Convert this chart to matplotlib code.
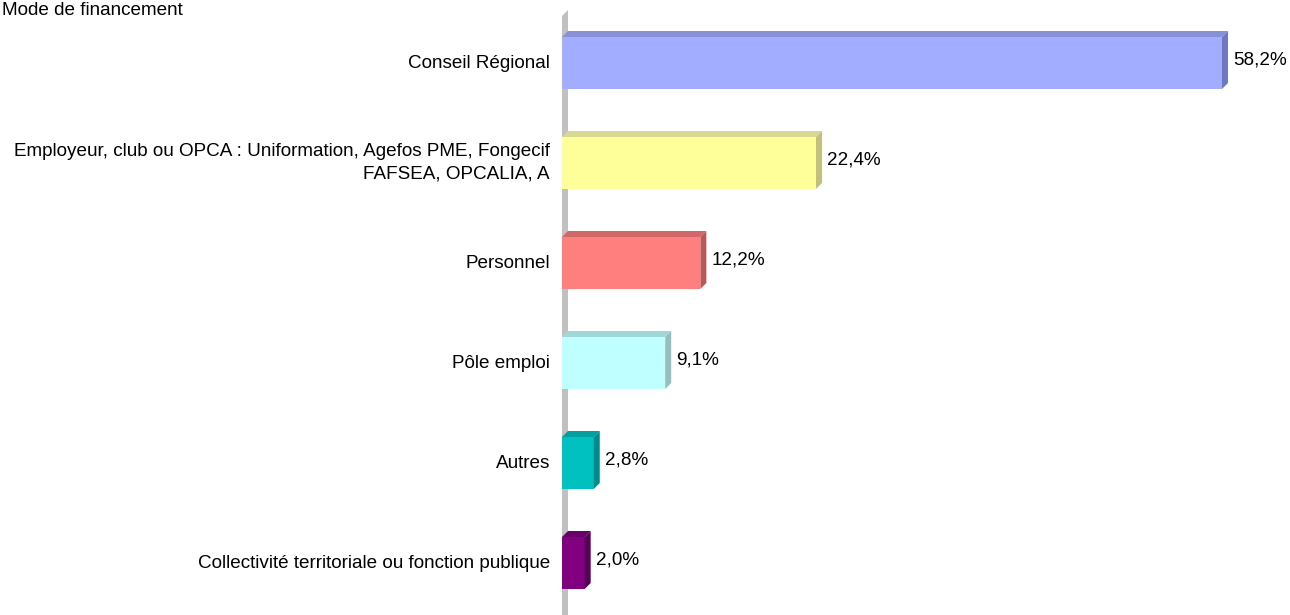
import matplotlib
matplotlib.use("Agg")
import matplotlib.pyplot as plt
from matplotlib.patches import Polygon

categories = ["Conseil Régional",
              "Employeur, club ou OPCA : Uniformation, Agefos PME, Fongecif\nFAFSEA, OPCALIA, A",
              "Personnel", "Pôle emploi", "Autres",
              "Collectivité territoriale ou fonction publique"]
values = [58.2, 22.4, 12.2, 9.1, 2.8, 2.0]
value_labels = ["58,2%", "22,4%", "12,2%", "9,1%", "2,8%", "2,0%"]
front_colors = ["#A3ADFF", "#FFFF99", "#FF7F7F", "#C0FFFF", "#00C0C0", "#800080"]
top_colors = ["#8890D8", "#D8D890", "#D06868", "#A0D8D8", "#00A0A0", "#6A006A"]
side_colors = ["#7078C0", "#C0C080", "#B85858", "#90C0C0", "#008A8A", "#580058"]
title = "Mode de financement"

font = ["Liberation Sans", "DejaVu Sans"]
fs = 13.6

W, H = 1290, 615
fig = plt.figure(figsize=(W / 100, H / 100), dpi=100)
x0 = 562
ax = fig.add_axes([x0 / W, 0, 1 - x0 / W, 1])
pxu = 11.34  # pixels per percent
ax.set_xlim(0, (W - x0) / pxu)
ax.set_ylim(5.52, -0.63)
ax.axis("off")

dx = 6 / pxu
dy = 0.06
h = 0.52

# wall
ax.add_patch(Polygon([(0, 5.6), (0, -0.47), (dx, -0.53), (dx, 5.6)],
                     closed=True, facecolor="#C0C0C0", edgecolor="none", zorder=1))

ypos = list(range(len(values)))
ax.barh(ypos, values, height=h, color=front_colors, zorder=3, left=0)
for y, v, tc, sc, lab, cat in zip(ypos, values, top_colors, side_colors, value_labels, categories):
    top = y - h / 2
    bot = y + h / 2
    ax.add_patch(Polygon([(0, top), (dx, top - dy), (v + dx, top - dy), (v, top)],
                         closed=True, facecolor=tc, edgecolor="none", zorder=3))
    ax.add_patch(Polygon([(v, top), (v + dx, top - dy), (v + dx, bot - dy), (v, bot)],
                         closed=True, facecolor=sc, edgecolor="none", zorder=3))
    ax.text(v + dx + 5 / pxu, y - 0.03, lab, ha="left", va="center",
            fontsize=fs, family=font, color="black")
    ax.text(-12 / pxu, y, cat, ha="right", va="center", fontsize=fs,
            family=font, color="black", multialignment="right", linespacing=1.45,
            clip_on=False)

fig.text(2 / W, 1 - 2 / H, title, ha="left", va="top", fontsize=fs,
         family=font, color="black")

fig.savefig("out.png", dpi=100)
